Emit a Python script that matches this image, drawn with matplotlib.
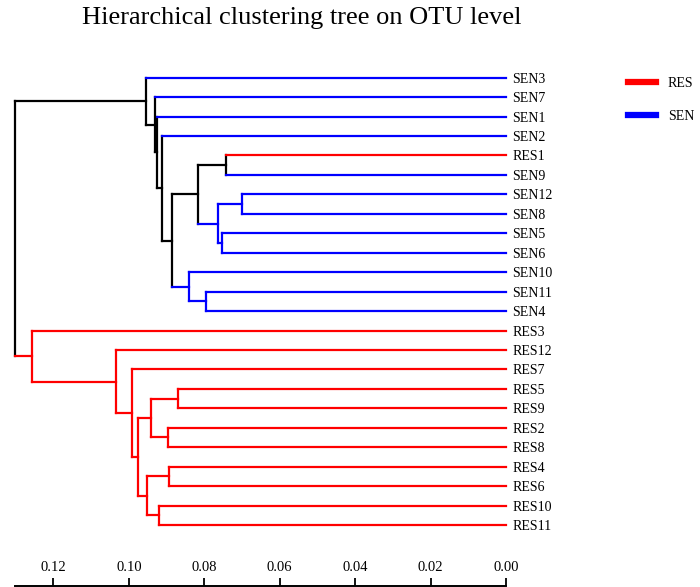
"""Hierarchical clustering tree (dendrogram) drawn by hand with matplotlib."""

import matplotlib

matplotlib.use("Agg")
import matplotlib.pyplot as plt
from matplotlib.lines import Line2D

plt.rcParams["font.family"] = ["Liberation Serif", "DejaVu Serif"]

TITLE = "Hierarchical clustering tree on OTU level"

# leaves, top to bottom, and the group each one belongs to
LEAVES = ["SEN3", "SEN7", "SEN1", "SEN2", "RES1", "SEN9", "SEN12", "SEN8",
          "SEN5", "SEN6", "SEN10", "SEN11", "SEN4", "RES3", "RES12", "RES7",
          "RES5", "RES9", "RES2", "RES8", "RES4", "RES6", "RES10", "RES11"]
GROUPS = ["SEN", "SEN", "SEN", "SEN", "RES", "SEN", "SEN", "SEN",
          "SEN", "SEN", "SEN", "SEN", "SEN", "RES", "RES", "RES",
          "RES", "RES", "RES", "RES", "RES", "RES", "RES", "RES"]

# merges: (upper child, lower child, height); merge k is called "n{k}"
MERGES = [
    ("SEN12", "SEN8", 0.0699),   # n0
    ("RES1", "SEN9", 0.0742),    # n1
    ("SEN5", "SEN6", 0.0752),    # n2
    ("n0", "n2", 0.0765),        # n3
    ("SEN11", "SEN4", 0.0796),   # n4
    ("n1", "n3", 0.0816),        # n5
    ("SEN10", "n4", 0.0840),     # n6
    ("n5", "n6", 0.0886),        # n7
    ("SEN2", "n7", 0.0911),      # n8
    ("SEN1", "n8", 0.0926),      # n9
    ("SEN7", "n9", 0.0932),      # n10
    ("SEN3", "n10", 0.0955),     # n11
    ("RES5", "RES9", 0.0870),    # n12
    ("RES4", "RES6", 0.0893),    # n13
    ("RES2", "RES8", 0.0895),    # n14
    ("RES10", "RES11", 0.0919),  # n15
    ("n12", "n14", 0.0941),      # n16
    ("n13", "n15", 0.0953),      # n17
    ("n16", "n17", 0.0976),      # n18
    ("RES7", "n18", 0.0992),     # n19
    ("RES12", "n19", 0.1034),    # n20
    ("RES3", "n20", 0.1256),     # n21
    ("n11", "n21", 0.1302),      # n22 (root)
]

SCALE_TICKS = [0.12, 0.10, 0.08, 0.06, 0.04, 0.02, 0.00]
GROUP_COLORS = {"RES": "#ff0000", "SEN": "#0000ff"}
MIXED_COLOR = "black"


def color_of(group):
    return GROUP_COLORS.get(group, MIXED_COLOR)


fig = plt.figure(figsize=(7.0, 5.87), dpi=100)
ax = fig.add_axes([15 / 700, 0.0891, 491 / 700, 0.7951])

root_h = MERGES[-1][2]
pos = {leaf: (0.0, i) for i, leaf in enumerate(LEAVES)}
grp = dict(zip(LEAVES, GROUPS))
kw = dict(lw=1.6, solid_capstyle="projecting", clip_on=False)

for k, (a, b, h) in enumerate(MERGES):
    (xa, ya), (xb, yb) = pos[a], pos[b]
    ga, gb = grp[a], grp[b]
    g = ga if ga == gb else None
    # vertical link coloured only when both sides are in one group
    ax.plot([h, h], [ya, yb], color=color_of(g), **kw)
    ax.plot([h, xa], [ya, ya], color=color_of(ga), **kw)
    ax.plot([h, xb], [yb, yb], color=color_of(gb), **kw)
    pos[f"n{k}"] = (h, (ya + yb) / 2)
    grp[f"n{k}"] = g

ax.set_xlim(root_h, 0)
ax.set_ylim(len(LEAVES) - 0.5, -0.5)
ax.set_xticks([])
ax.yaxis.tick_right()
ax.set_yticks(range(len(LEAVES)))
ax.set_yticklabels(LEAVES, fontsize=10)
ax.tick_params(axis="y", length=0, pad=4.5)
for s in ax.spines.values():
    s.set_visible(False)

# distance scale bar at the very bottom, labels above the ticks
sax = fig.add_axes([15 / 700, 1 / 587, 491 / 700, 0.001])
sax.set_xlim(root_h, 0)
sax.set_xticks(SCALE_TICKS)
sax.set_xticklabels([f"{t:.2f}" for t in SCALE_TICKS], fontsize=10.5)
sax.set_yticks([])
sax.tick_params(axis="x", direction="in", length=5.5, width=1.3, bottom=True, top=False,
                labelbottom=False, labeltop=True, pad=8.5)
for name in ("top", "left", "right"):
    sax.spines[name].set_visible(False)
sax.spines["bottom"].set_linewidth(1.4)
sax.patch.set_visible(False)

handles = [Line2D([], [], color=GROUP_COLORS[g], lw=4.5) for g in GROUP_COLORS]
fig.legend(handles, list(GROUP_COLORS), loc="upper left",
           bbox_to_anchor=(628 / 700, 1 - 77 / 587), frameon=False, fontsize=10,
           borderpad=0, borderaxespad=0, handlelength=2.05, handletextpad=0.83,
           labelspacing=1.45)

fig.text(302 / 700, 1 - 18 / 587, TITLE, ha="center", va="center", fontsize=19)

fig.savefig("out.png", dpi=100)
